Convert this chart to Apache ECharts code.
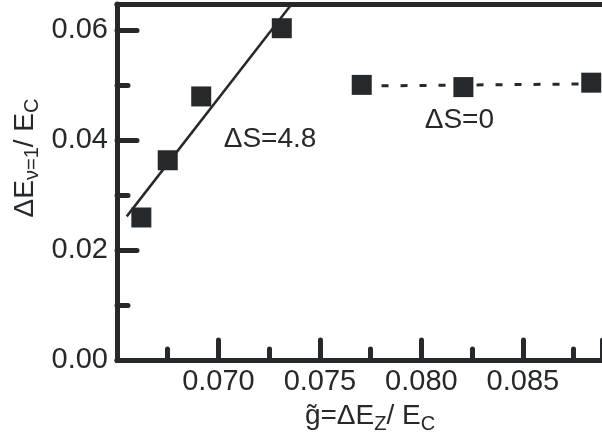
<!DOCTYPE html>
<html>
<head>
<meta charset="utf-8">
<script src="https://cdn.jsdelivr.net/npm/echarts@6/dist/echarts.min.js"></script>
<style>
  html, body { margin: 0; padding: 0; background: #fff; }
  #main { width: 602px; height: 442px; }
</style>
</head>
<body>
<div id="main"></div>
<script>
// measured points: g~ (x) vs dE_{v=1}/E_C (y)
const gValues = [0.0662, 0.0675, 0.06915, 0.07312, 0.07706, 0.08207, 0.08837]
const eValues = [0.0259, 0.0363, 0.0479, 0.0603, 0.0500, 0.0496, 0.0504]
// linear fit (dS=4.8), drawn between two end points
const fitX = [0.06548, 0.07361]
const fitY = [0.0261, 0.0647]
// flat guide (dS=0)
const flatX = [0.0771, 0.0889]
const flatY = [0.0498, 0.0502]
// annotations
const noteText = ['ΔS=4.8', 'ΔS=0']
const noteX = [0.07254, 0.08187]
const noteY = [0.0401, 0.0436]

const ink = '#25292c'
const font = 'Liberation Sans, Arial, Helvetica, sans-serif'

const chartDom = document.getElementById('main')
const myChart = echarts.init(chartDom)

const option = {
  animation: false,
  backgroundColor: '#fff',
  grid: { left: 117, right: 0, top: 4, bottom: 82, containLabel: false },
  xAxis: [
    {
      type: 'value',
      min: 0.065,
      max: 0.0889,
      interval: 0.005,
      axisLine: { show: true, onZero: false, lineStyle: { color: ink, width: 5 } },
      axisTick: { show: true, inside: true, length: 20, lineStyle: { color: ink, width: 5, cap: 'round' } },
      minorTick: { show: true, splitNumber: 2, length: 11, lineStyle: { color: ink, width: 5, cap: 'round' } },
      splitLine: { show: false },
      axisLabel: {
        showMinLabel: false,
        showMaxLabel: false,
        margin: 7,
        color: ink,
        fontFamily: font,
        fontSize: 29,
        formatter: v => v.toFixed(3)
      }
    },
    {
      type: 'value',
      position: 'top',
      min: 0.065,
      max: 0.0889,
      axisLine: { show: true, onZero: false, lineStyle: { color: ink, width: 5 } },
      axisTick: { show: false },
      axisLabel: { show: false },
      splitLine: { show: false }
    }
  ],
  yAxis: {
    type: 'value',
    min: 0,
    max: 0.0647,
    interval: 0.02,
    axisLine: { show: true, onZero: false, lineStyle: { color: ink, width: 5 } },
    axisTick: { show: true, inside: true, length: 20, lineStyle: { color: ink, width: 5, cap: 'round' } },
    minorTick: { show: true, splitNumber: 2, length: 11, lineStyle: { color: ink, width: 5, cap: 'round' } },
    splitLine: { show: false },
    axisLabel: {
      showMaxLabel: false,
      margin: 9,
      color: ink,
      fontFamily: font,
      fontSize: 29,
      formatter: v => v.toFixed(2)
    }
  },
  graphic: [
    {
      type: 'text',
      x: 25,
      y: 158,
      rotation: Math.PI / 2,
      style: {
        text: 'ΔE{sub|ν=1}/ E{sub|C}',
        fill: ink,
        font: '28px ' + font,
        align: 'center',
        verticalAlign: 'middle',
        rich: { sub: { fontSize: 20, fontFamily: font, fill: ink, padding: [14, 0, 0, 0] } }
      }
    },
    {
      type: 'text',
      x: 370,
      y: 416,
      style: {
        text: 'g\u0303=ΔE{sub|Z}/ E{sub|C}',
        fill: ink,
        font: '28px ' + font,
        align: 'center',
        verticalAlign: 'middle',
        rich: { sub: { fontSize: 20, fontFamily: font, fill: ink, padding: [16, 0, 0, 0] } }
      }
    }
  ],
  series: [
    {
      name: 'fit',
      type: 'line',
      data: fitX.map((x, i) => [x, fitY[i]]),
      symbol: 'none',
      lineStyle: { color: ink, width: 2.5 },
      z: 2
    },
    {
      name: 'flat',
      type: 'line',
      data: flatX.map((x, i) => [x, flatY[i]]),
      symbol: 'none',
      lineStyle: { color: ink, width: 3, type: [7, 12] },
      z: 2
    },
    {
      name: 'data',
      type: 'scatter',
      data: gValues.map((x, i) => [x, eValues[i]]),
      symbol: 'rect',
      symbolSize: 20,
      itemStyle: { color: ink, opacity: 1 },
      z: 3
    },
    {
      name: 'notes',
      type: 'scatter',
      data: noteX.map((x, i) => [x, noteY[i], noteText[i]]),
      symbolSize: 0,
      silent: true,
      itemStyle: { color: 'transparent', opacity: 1 },
      label: {
        show: true,
        position: 'inside',
        formatter: p => p.data[2],
        color: ink,
        opacity: 1,
        textBorderWidth: 0,
        textBorderColor: 'transparent',
        fontFamily: font,
        fontSize: 28
      },
      z: 4
    }
  ]
}

myChart.setOption(option)
</script>
</body>
</html>
